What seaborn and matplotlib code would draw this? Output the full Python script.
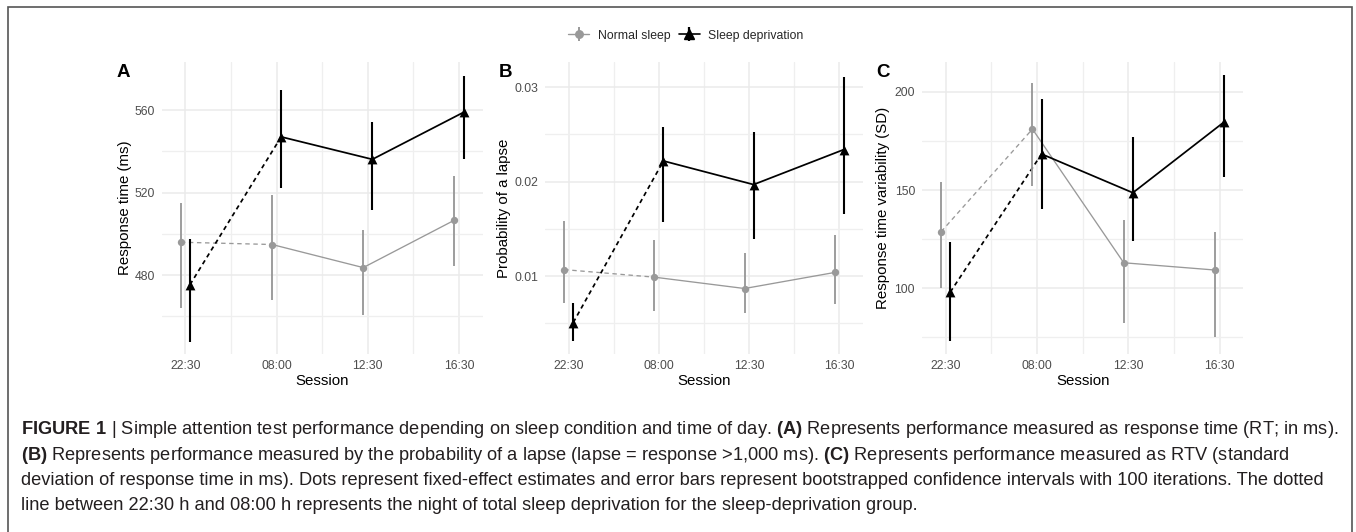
import numpy as np
import pandas as pd
import matplotlib
matplotlib.use("Agg")
import matplotlib.pyplot as plt
import seaborn as sns
from matplotlib.lines import Line2D
from matplotlib.legend_handler import HandlerTuple
from matplotlib.patches import Rectangle

# ---------------- data ----------------
sessions = ["22:30", "08:00", "12:30", "16:30"]
groups = ["Normal sleep", "Sleep deprivation"]

rt_normal = [495.9, 494.8, 483.6, 506.6]
rt_normal_lo = [464.2, 468.1, 460.4, 484.2]
rt_normal_hi = [515.1, 518.7, 502.0, 527.9]
rt_depr = [475.3, 547.0, 536.1, 558.9]
rt_depr_lo = [447.7, 522.4, 511.4, 536.1]
rt_depr_hi = [497.3, 569.7, 554.3, 576.7]

lapse_normal = [0.0107, 0.0099, 0.0087, 0.0104]
lapse_normal_lo = [0.0072, 0.0063, 0.0061, 0.0071]
lapse_normal_hi = [0.0158, 0.0138, 0.0125, 0.0144]
lapse_depr = [0.0051, 0.0222, 0.0197, 0.0234]
lapse_depr_lo = [0.0031, 0.0157, 0.0139, 0.0166]
lapse_depr_hi = [0.0072, 0.0258, 0.0253, 0.0311]

rtv_normal = [128.8, 181.0, 113.0, 109.3]
rtv_normal_lo = [100.0, 152.0, 82.5, 75.1]
rtv_normal_hi = [154.2, 204.4, 134.7, 128.5]
rtv_depr = [98.1, 168.3, 148.6, 184.6]
rtv_depr_lo = [73.0, 140.2, 123.9, 156.8]
rtv_depr_hi = [123.6, 196.3, 176.8, 208.3]

panel_letters = ["A", "B", "C"]
y_titles = ["Response time (ms)", "Probability of a lapse", "Response time variability (SD)"]
x_title = "Session"

caption_lines = [
    r"$\mathbf{FIGURE\ 1}$ | Simple attention test performance depending on sleep condition and time of day. "
    r"$\mathbf{(A)}$ Represents performance measured as response time (RT; in ms).",
    r"$\mathbf{(B)}$ Represents performance measured by the probability of a lapse (lapse = response >1,000 ms). "
    r"$\mathbf{(C)}$ Represents performance measured as RTV (standard",
    "deviation of response time in ms). Dots represent fixed-effect estimates and error bars represent "
    "bootstrapped confidence intervals with 100 iterations. The dotted",
    "line between 22:30 h and 08:00 h represents the night of total sleep deprivation for the sleep-deprivation group.",
]

# ---------------- style ----------------
sns.set_theme(style="white")
plt.rcParams["font.family"] = ["Liberation Sans", "DejaVu Sans"]
plt.rcParams["mathtext.fontset"] = "custom"
plt.rcParams["mathtext.rm"] = "Liberation Sans"
plt.rcParams["mathtext.bf"] = "Liberation Sans:bold"
plt.rcParams["lines.scale_dashes"] = False

W, H = 1356, 532
fig = plt.figure(figsize=(W / 100, H / 100), dpi=100)
fig.patch.set_facecolor("white")

GRAY = "#999999"
BLACK = "#000000"
offsets = {"Normal sleep": -0.05, "Sleep deprivation": 0.05}
colors = {"Normal sleep": GRAY, "Sleep deprivation": BLACK}
markers = {"Normal sleep": "o", "Sleep deprivation": "^"}
msize = {"Normal sleep": 28, "Sleep deprivation": 50}
lw_line = {"Normal sleep": 0.95, "Sleep deprivation": 1.25}
lw_ci = {"Normal sleep": 1.35, "Sleep deprivation": 1.5}

panels = [
    dict(data={"Normal sleep": (rt_normal, rt_normal_lo, rt_normal_hi),
               "Sleep deprivation": (rt_depr, rt_depr_lo, rt_depr_hi)},
         ylim=(441.7, 583.3), major=[480, 520, 560], minor=[460, 500, 540],
         fmt=lambda v: f"{v:.0f}", px=(161.7, 482.7), labx=-0.094, letterx=116.7),
    dict(data={"Normal sleep": (lapse_normal, lapse_normal_lo, lapse_normal_hi),
               "Sleep deprivation": (lapse_depr, lapse_depr_lo, lapse_depr_hi)},
         ylim=(0.00177, 0.03267), major=[0.01, 0.02, 0.03], minor=[0.005, 0.015, 0.025],
         fmt=lambda v: f"{v:.2f}", px=(545.3, 862.7), labx=-0.108, letterx=498.3),
    dict(data={"Normal sleep": (rtv_normal, rtv_normal_lo, rtv_normal_hi),
               "Sleep deprivation": (rtv_depr, rtv_depr_lo, rtv_depr_hi)},
         ylim=(66.6, 215.1), major=[100, 150, 200], minor=[75, 125, 175],
         fmt=lambda v: f"{v:.0f}", px=(922.0, 1243.3), labx=-0.100, letterx=876.7),
]

top_px, bot_px = 62, 354
for i, p in enumerate(panels):
    l, r = p["px"]
    ax = fig.add_axes([l / W, 1 - bot_px / H, (r - l) / W, (bot_px - top_px) / H])
    rows = []
    for g in groups:
        vals, lo, hi = p["data"][g]
        for k, s in enumerate(sessions):
            rows.append(dict(group=g, session=s, xpos=k + 1 + offsets[g],
                             value=vals[k], lo=lo[k], hi=hi[k], idx=k))
    df = pd.DataFrame(rows)
    for g in groups:
        sub = df[df.group == g]
        night = sub[sub.idx <= 1]
        day = sub[sub.idx >= 1]
        sns.lineplot(data=night, x="xpos", y="value", color=colors[g], lw=lw_line[g],
                     linestyle=(0, (3.2, 2.6)), estimator=None, sort=False, ax=ax, legend=False)
        sns.lineplot(data=day, x="xpos", y="value", color=colors[g], lw=lw_line[g],
                     estimator=None, sort=False, ax=ax, legend=False)
        ax.vlines(sub["xpos"], sub["lo"], sub["hi"], color=colors[g], lw=lw_ci[g], zorder=3)
        sns.scatterplot(data=sub, x="xpos", y="value", color=colors[g], marker=markers[g],
                        s=msize[g], linewidth=0, ax=ax, legend=False, zorder=4)

    ax.set_xlim(0.74, 4.26)
    ax.set_ylim(*p["ylim"])
    ax.set_xticks(range(1, 5))
    ax.set_xticklabels(sessions)
    ax.set_xticks([1.5, 2.5, 3.5], minor=True)
    ax.set_yticks(p["major"])
    ax.set_yticklabels([p["fmt"](v) for v in p["major"]])
    ax.set_yticks(p["minor"], minor=True)
    ax.grid(which="major", color="#EBEBEB", lw=1.1)
    ax.grid(which="minor", color="#EFEFEF", lw=0.9)
    ax.set_axisbelow(True)
    for sp in ax.spines.values():
        sp.set_visible(False)
    ax.tick_params(which="both", length=0, labelsize=8.8, labelcolor="#4D4D4D")
    ax.tick_params(axis="y", pad=5)
    ax.tick_params(axis="x", pad=4)
    ax.set_xlabel(x_title, fontsize=10.8, color="black", labelpad=2)
    ax.set_ylabel(y_titles[i], fontsize=10.8, color="black")
    ax.yaxis.set_label_coords(p["labx"], 0.5)
    fig.text(p["letterx"] / W, 1 - 77 / H, panel_letters[i], fontsize=13.5,
             fontweight="bold", ha="left", va="baseline", color="black")

# ---------------- legend ----------------
h_norm = (Line2D([], [], color=GRAY, lw=1.0),
          Line2D([], [], color=GRAY, lw=0, marker="|", markersize=10, mew=1.4),
          Line2D([], [], color=GRAY, lw=0, marker="o", markersize=5.4))
h_dep = (Line2D([], [], color=BLACK, lw=1.2),
         Line2D([], [], color=BLACK, lw=0, marker="|", markersize=10, mew=1.6),
         Line2D([], [], color=BLACK, lw=0, marker="^", markersize=7))
fig.legend([h_norm, h_dep], groups, handler_map={tuple: HandlerTuple(ndivide=1, pad=0)},
           loc="center", bbox_to_anchor=(686 / W, 1 - 35.7 / H), ncol=2, frameon=False,
           fontsize=8.8, handlelength=1.7, handletextpad=0.7, columnspacing=0.7,
           numpoints=1)

# ---------------- frame ----------------
fig.add_artist(Rectangle((8 / W, -0.1), (1352 - 8) / W, 1.1 - 7 / H, fill=False,
                         ec="#555555", lw=1.2, transform=fig.transFigure, clip_on=False))

# ---------------- caption ----------------
baselines = [434, 460, 485, 510]
texts = []
fs0 = 12.0
for line, b in zip(caption_lines, baselines):
    t = fig.text(20.7 / W, 1 - b / H, line, fontsize=fs0, color="#231F20",
                 ha="left", va="baseline")
    texts.append(t)
fig.canvas.draw()
renderer = fig.canvas.get_renderer()
w0 = texts[0].get_window_extent(renderer).width
fs = fs0 * (1332 - 20.7) / w0
for t in texts:
    t.set_fontsize(fs)

fig.savefig("out.png", dpi=100, facecolor="white")
